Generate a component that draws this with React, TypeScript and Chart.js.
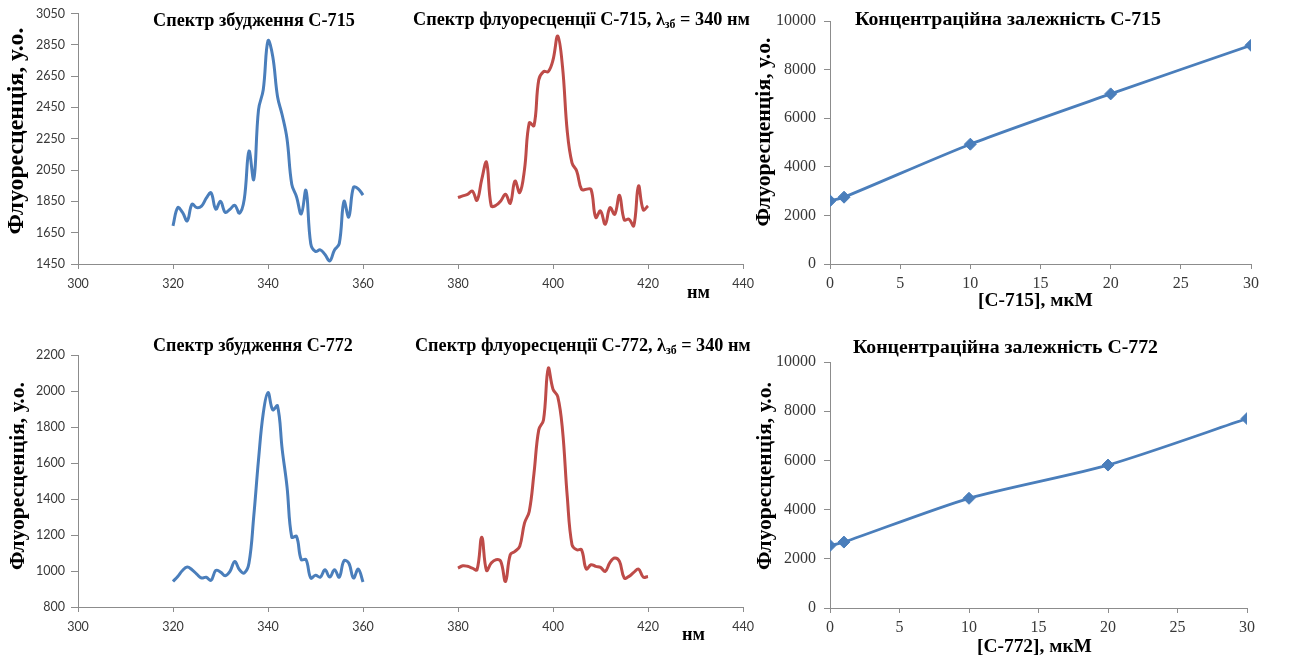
import React, { useEffect, useRef } from "react";
import { Chart, registerables } from "chart.js";
Chart.register(...registerables);

// ---------- DATA ----------
const excitationNm = [320, 321, 322, 323, 324, 325, 326, 327, 328, 329, 330, 331, 332, 333, 334, 335, 336, 337, 338, 339, 340, 341, 342, 343, 344, 345, 346, 347, 348, 349, 350, 351, 352, 353, 354, 355, 356, 357, 358, 359, 360];
const emissionNm = [380, 381, 382, 383, 384, 385, 386, 387, 388, 389, 390, 391, 392, 393, 394, 395, 396, 397, 398, 399, 400, 401, 402, 403, 404, 405, 406, 407, 408, 409, 410, 411, 412, 413, 414, 415, 416, 417, 418, 419, 420];

const excitation715 = [1694, 1810, 1779, 1726, 1832, 1810, 1820, 1870, 1905, 1800, 1850, 1780, 1800, 1825, 1775, 1863, 2171, 1990, 2435, 2563, 2876, 2775, 2520, 2400, 2250, 1960, 1880, 1770, 1920, 1580, 1530, 1540, 1510, 1470, 1540, 1580, 1850, 1750, 1940, 1930, 1890];
const emission715 = [1874, 1885, 1895, 1916, 1857, 1990, 2100, 1821, 1825, 1853, 1895, 1838, 1980, 1906, 2054, 2351, 2334, 2626, 2679, 2679, 2753, 2906, 2711, 2298, 2096, 2043, 1927, 1927, 1927, 1747, 1789, 1704, 1810, 1768, 1889, 1732, 1736, 1694, 1948, 1796, 1821];

const excitation772 = [942, 970, 1003, 1022, 1007, 983, 961, 965, 948, 1003, 994, 974, 998, 1053, 1007, 989, 1044, 1303, 1617, 1876, 1991, 1895, 1917, 1673, 1469, 1188, 1192, 1063, 1063, 961, 976, 966, 1007, 966, 1007, 966, 1057, 1044, 961, 1011, 939];
const emission772 = [1016, 1029, 1026, 1016, 1007, 1188, 1003, 1044, 1063, 1053, 942, 1090, 1109, 1137, 1266, 1331, 1543, 1784, 1839, 2126, 2010, 1969, 1784, 1414, 1146, 1118, 1118, 1011, 1035, 1026, 1020, 998, 1048, 1072, 1053, 961, 970, 992, 1011, 966, 970];

const concentration = [0, 1, 10, 20, 30];
const conc715 = [2600, 2750, 4930, 7000, 9000];
const conc772 = [2540, 2680, 4460, 5810, 7700];

// ---------- STYLE ----------
const BLUE = "#4A7EBB";
const RED = "#BE4B48";
const AXIS = "#8C8C8C";
const TICK = "#383838";
const SERIF = "'Liberation Serif', 'Times New Roman', serif";
const SANS = "Lato, 'Liberation Sans', sans-serif";

type Seg = { t: string; sub?: boolean };
type TextItem = {
  segs: Seg[];
  x: number; // left (or vertical center for rotated)
  y: number; // baseline (or baseline x for rotated)
  width: number;
  rotated?: boolean;
};

function textPlugin(items: TextItem[], offX: number, offY: number) {
  return {
    id: "pageTexts",
    afterDraw(chart: any) {
      const ctx: CanvasRenderingContext2D = chart.ctx;
      ctx.save();
      ctx.fillStyle = "#000";
      for (const it of items) {
        const base = 100;
        let w100 = 0;
        for (const s of it.segs) {
          ctx.font = `bold ${s.sub ? base * 0.65 : base}px ${SERIF}`;
          w100 += ctx.measureText(s.t).width;
        }
        const size = (base * it.width) / w100;
        let total = 0;
        for (const s of it.segs) {
          ctx.font = `bold ${s.sub ? size * 0.65 : size}px ${SERIF}`;
          total += ctx.measureText(s.t).width;
        }
        ctx.save();
        ctx.textBaseline = "alphabetic";
        ctx.textAlign = "left";
        let cx = 0;
        if (it.rotated) {
          ctx.translate(it.y - offX, it.x - offY);
          ctx.rotate(-Math.PI / 2);
          cx = -total / 2;
        } else {
          ctx.translate(it.x - offX, it.y - offY);
        }
        for (const s of it.segs) {
          ctx.font = `bold ${s.sub ? size * 0.65 : size}px ${SERIF}`;
          ctx.fillText(s.t, cx, s.sub ? size * 0.18 : 0);
          cx += ctx.measureText(s.t).width;
        }
        ctx.restore();
      }
      ctx.restore();
    },
  };
}

type Box = { left: number; top: number; width: number; height: number };
type Plot = { L: number; T: number; R: number; B: number };

function fixScales(box: Box, plot: Plot) {
  return {
    padding: { left: 0, top: plot.T - box.top, right: box.left + box.width - plot.R, bottom: 0 },
    yWidth: plot.L - box.left,
    xHeight: box.top + box.height - plot.B,
  };
}

function spectrumConfig(box: Box, plot: Plot, exc: number[], em: number[], yMin: number, yMax: number, texts: TextItem[]) {
  const f = fixScales(box, plot);
  return {
    type: "line",
    data: {
      datasets: [
        { data: excitationNm.map((x, i) => ({ x, y: exc[i] })), borderColor: BLUE, borderWidth: 3, pointRadius: 0, tension: 0.4, fill: false },
        { data: emissionNm.map((x, i) => ({ x, y: em[i] })), borderColor: RED, borderWidth: 3, pointRadius: 0, tension: 0.4, fill: false },
      ],
    },
    options: {
      animation: false,
      responsive: false,
      devicePixelRatio: 1,
      layout: { padding: f.padding },
      plugins: { legend: { display: false }, tooltip: { enabled: false }, title: { display: false } },
      scales: {
        x: {
          type: "linear", min: 300, max: 440,
          ticks: { stepSize: 20, color: TICK, font: { family: SANS, size: 12.5 }, padding: 7, maxRotation: 0, callback: (v: number) => String(v) },
          grid: { drawOnChartArea: false, drawTicks: true, tickLength: 5, color: AXIS },
          border: { color: AXIS, width: 1 },
          afterFit: (s: any) => { s.height = f.xHeight; },
        },
        y: {
          type: "linear", min: yMin, max: yMax,
          ticks: { stepSize: 200, color: TICK, font: { family: SANS, size: 12.5 }, padding: 6, callback: (v: number) => String(v) },
          grid: { drawOnChartArea: false, drawTicks: true, tickLength: 7, color: AXIS },
          border: { color: AXIS, width: 1 },
          afterFit: (s: any) => { s.width = f.yWidth; },
        },
      },
    },
    plugins: [textPlugin(texts, box.left, box.top)],
  };
}

function concConfig(box: Box, plot: Plot, vals: number[], texts: TextItem[]) {
  const f = fixScales(box, plot);
  return {
    type: "line",
    data: {
      datasets: [
        {
          data: concentration.map((x, i) => ({ x, y: vals[i] })),
          borderColor: BLUE, backgroundColor: BLUE, borderWidth: 2.8,
          pointStyle: "rectRot", pointRadius: 6, pointBackgroundColor: BLUE, pointBorderColor: BLUE, pointBorderWidth: 1,
          tension: 0.25, fill: false,
        },
      ],
    },
    options: {
      animation: false,
      responsive: false,
      devicePixelRatio: 1,
      layout: { padding: f.padding },
      plugins: { legend: { display: false }, tooltip: { enabled: false }, title: { display: false } },
      scales: {
        x: {
          type: "linear", min: 0, max: 30,
          ticks: { stepSize: 5, color: TICK, font: { family: SERIF, size: 16 }, padding: 5, maxRotation: 0, callback: (v: number) => String(v) },
          grid: { drawOnChartArea: false, drawTicks: true, tickLength: 5, color: AXIS },
          border: { color: AXIS, width: 1 },
          afterFit: (s: any) => { s.height = f.xHeight; },
        },
        y: {
          type: "linear", min: 0, max: 10000,
          ticks: { stepSize: 2000, color: TICK, font: { family: SERIF, size: 16 }, padding: 8, callback: (v: number) => String(v) },
          grid: { drawOnChartArea: false, drawTicks: true, tickLength: 6, color: AXIS },
          border: { color: AXIS, width: 1 },
          afterFit: (s: any) => { s.width = f.yWidth; },
        },
      },
    },
    plugins: [textPlugin(texts, box.left, box.top)],
  };
}

function ChartCanvas({ box, make }: { box: Box; make: () => any }) {
  const ref = useRef<HTMLCanvasElement | null>(null);
  useEffect(() => {
    if (!ref.current) return;
    const chart = new Chart(ref.current, make());
    return () => chart.destroy();
  }, []);
  return (
    <canvas
      ref={ref}
      width={box.width}
      height={box.height}
      style={{ position: "absolute", left: box.left, top: box.top, width: box.width, height: box.height }}
    />
  );
}

const yTitle = "Флуоресценція, у.о.";

const boxTL: Box = { left: 0, top: 0, width: 770, height: 325 };
const plotTL: Plot = { L: 78, T: 13, R: 743, B: 264 };
const textsTL: TextItem[] = [
  { segs: [{ t: "Спектр збудження С-715" }], x: 153, y: 26, width: 202 },
  { segs: [{ t: "Спектр флуоресценції С-715, λ" }, { t: "зб", sub: true }, { t: " = 340 нм" }], x: 413, y: 25, width: 337 },
  { segs: [{ t: "нм" }], x: 687, y: 298, width: 23 },
  { segs: [{ t: yTitle }], x: 131, y: 23, width: 207, rotated: true },
];

const boxBL: Box = { left: 0, top: 330, width: 770, height: 330 };
const plotBL: Plot = { L: 78, T: 355, R: 743, B: 607 };
const textsBL: TextItem[] = [
  { segs: [{ t: "Спектр збудження С-772" }], x: 153, y: 351, width: 200 },
  { segs: [{ t: "Спектр флуоресценції С-772, λ" }, { t: "зб", sub: true }, { t: " = 340 нм" }], x: 415, y: 351, width: 336 },
  { segs: [{ t: "нм" }], x: 682, y: 640, width: 23 },
  { segs: [{ t: yTitle }], x: 476, y: 24, width: 188, rotated: true },
];

const boxTR: Box = { left: 750, top: 0, width: 559, height: 325 };
const plotTR: Plot = { L: 830, T: 21, R: 1251, B: 264 };
const textsTR: TextItem[] = [
  { segs: [{ t: "Концентраційна залежність С-715" }], x: 855, y: 25, width: 306 },
  { segs: [{ t: "[С-715], мкМ" }], x: 978, y: 306, width: 115 },
  { segs: [{ t: yTitle }], x: 132, y: 770, width: 189, rotated: true },
];

const boxBR: Box = { left: 750, top: 330, width: 559, height: 330 };
const plotBR: Plot = { L: 830, T: 362, R: 1247, B: 608 };
const textsBR: TextItem[] = [
  { segs: [{ t: "Концентраційна залежність С-772" }], x: 853, y: 353, width: 305 },
  { segs: [{ t: "[С-772], мкМ" }], x: 977, y: 652, width: 115 },
  { segs: [{ t: yTitle }], x: 476, y: 771, width: 188, rotated: true },
];

export default function App() {
  return (
    <div style={{ position: "absolute", left: 0, top: 0, width: 1309, height: 660, background: "#fff", overflow: "hidden" }}>
      <ChartCanvas box={boxTL} make={() => spectrumConfig(boxTL, plotTL, excitation715, emission715, 1450, 3050, textsTL)} />
      <ChartCanvas box={boxBL} make={() => spectrumConfig(boxBL, plotBL, excitation772, emission772, 800, 2200, textsBL)} />
      <ChartCanvas box={boxTR} make={() => concConfig(boxTR, plotTR, conc715, textsTR)} />
      <ChartCanvas box={boxBR} make={() => concConfig(boxBR, plotBR, conc772, textsBR)} />
    </div>
  );
}
